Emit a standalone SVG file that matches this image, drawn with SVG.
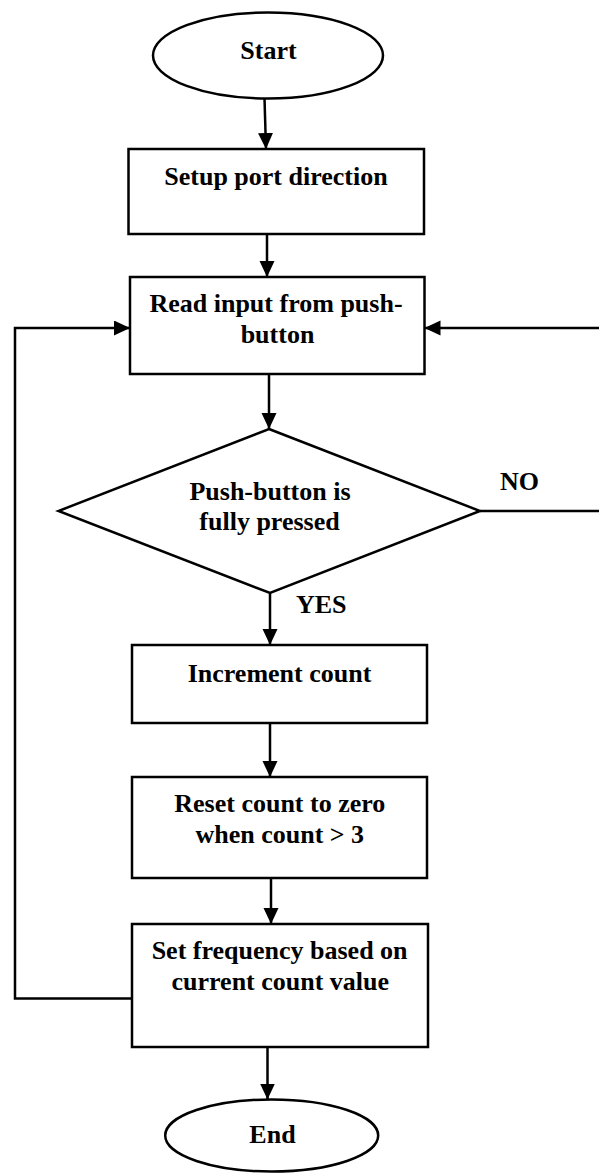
<svg xmlns="http://www.w3.org/2000/svg" width="599" height="1173" viewBox="0 0 599 1173">
<style>
.shape{fill:#fff;stroke:#000;stroke-width:2.5}
.t{font-family:"Liberation Serif","Times New Roman",serif;font-weight:bold;font-size:26px;fill:#000;text-anchor:middle}
.lbl{font-family:"Liberation Serif","Times New Roman",serif;font-weight:bold;font-size:26px;fill:#000}
.c{fill:none;stroke:#000;stroke-width:2.5}
</style>
<defs>
<marker id="ah" markerUnits="userSpaceOnUse" markerWidth="17" markerHeight="16" refX="16" refY="7.5" orient="auto">
<path d="M0,0 L16,7.5 L0,15 z" fill="#000"/>
</marker>
</defs>
<rect width="599" height="1173" fill="#fff"/>
<g id="connectors">
<line class="c" x1="264.5" y1="98.5" x2="266" y2="149" marker-end="url(#ah)"/>
<line class="c" x1="267" y1="234" x2="267" y2="277" marker-end="url(#ah)"/>
<line class="c" x1="269" y1="374" x2="269" y2="429" marker-end="url(#ah)"/>
<line class="c" x1="270" y1="593" x2="270" y2="645" marker-end="url(#ah)"/>
<line class="c" x1="270" y1="723" x2="270" y2="777" marker-end="url(#ah)"/>
<line class="c" x1="271" y1="878" x2="271" y2="924" marker-end="url(#ah)"/>
<line class="c" x1="267.5" y1="1047" x2="267.5" y2="1099.5" marker-end="url(#ah)"/>
<polyline class="c" points="132,998.5 15,998.5 15,328 130,328" marker-end="url(#ah)"/>
<line class="c" x1="480" y1="511" x2="599" y2="511"/>
<line class="c" x1="599" y1="328" x2="424.5" y2="328" marker-end="url(#ah)"/>
<text class="lbl" x="500" y="490">NO</text>
<text class="lbl" x="296" y="613">YES</text>
</g>
<g id="start">
<ellipse class="shape" cx="268" cy="55.5" rx="115" ry="43"/>
<text class="t" x="268.5" y="58.5">Start</text>
</g>
<g id="setup">
<rect class="shape" x="128.5" y="149" width="295.5" height="85"/>
<text class="t" x="276" y="185">Setup port direction</text>
</g>
<g id="read">
<rect class="shape" x="130" y="277" width="294.5" height="97"/>
<text class="t" x="276" y="311.5">Read input from push-</text>
<text class="t" x="277.5" y="342.5">button</text>
</g>
<g id="decision">
<polygon class="shape" points="269,429 480,511 270,593 58.5,511"/>
<text class="t" x="270" y="500">Push-button is</text>
<text class="t" x="269.5" y="530">fully pressed</text>
</g>
<g id="increment">
<rect class="shape" x="132" y="645" width="295" height="78"/>
<text class="t" x="279.5" y="681.5">Increment count</text>
</g>
<g id="reset">
<rect class="shape" x="132" y="777" width="295" height="101"/>
<text class="t" x="279.8" y="811.5">Reset count to zero</text>
<text class="t" x="279.8" y="843.3">when count &gt; 3</text>
</g>
<g id="setfreq">
<rect class="shape" x="132" y="924" width="296" height="123"/>
<text class="t" x="279.6" y="959.3">Set frequency based on</text>
<text class="t" x="280.3" y="990">current count value</text>
</g>
<g id="end">
<ellipse class="shape" cx="271.7" cy="1135.5" rx="106.5" ry="36"/>
<text class="t" x="272.5" y="1143.3">End</text>
</g>
</svg>
